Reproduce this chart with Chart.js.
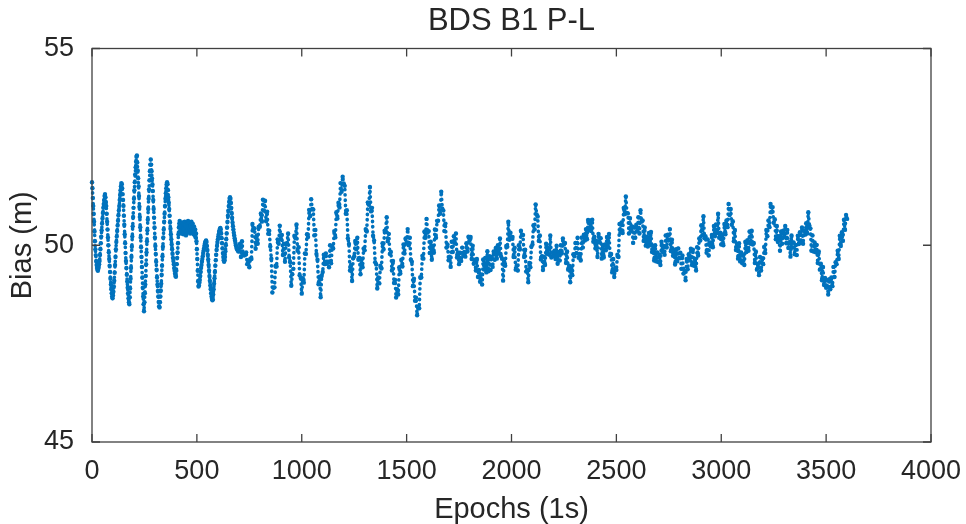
<!DOCTYPE html>
<html><head><meta charset="utf-8">
<script src="https://cdn.jsdelivr.net/npm/chart.js@4.4.1/dist/chart.umd.min.js"></script>
<style>html,body{margin:0;padding:0;background:#fff}#wrap{width:966px;height:524px;position:relative}</style>
</head><body><div id="wrap"><canvas id="c"></canvas></div>
<script>
const chartTitle = 'BDS B1 P-L';
const xAxisLabel = 'Epochs (1s)';
const yAxisLabel = 'Bias (m)';
const xTicks = [0, 500, 1000, 1500, 2000, 2500, 3000, 3500, 4000];
const yTicks = [45, 50, 55];

// epochs 0..700, every 2 s
const earlyStart = 0, earlyStep = 2;
const earlyBias = [
51.60,51.45,51.20,51.00,50.80,50.60,50.35,50.10,49.90,49.75,
49.60,49.50,49.42,49.38,49.35,49.40,49.45,49.52,49.60,49.75,
49.90,50.05,50.22,50.38,50.55,50.68,50.82,50.95,51.05,51.15,
51.25,51.30,51.22,51.10,51.00,50.80,50.60,50.40,50.20,50.00,
49.82,49.65,49.48,49.32,49.15,49.00,48.88,48.78,48.70,48.65,
48.72,48.82,48.95,49.10,49.30,49.50,49.70,49.90,50.08,50.22,
50.36,50.50,50.62,50.76,50.88,51.00,51.15,51.28,51.40,51.50,
51.58,51.55,51.45,51.30,51.15,51.00,50.75,50.52,50.28,50.05,
49.80,49.60,49.42,49.25,49.08,48.92,48.78,48.65,48.55,48.50,
48.68,48.90,49.15,49.42,49.70,49.96,50.22,50.48,50.72,50.95,
51.18,51.40,51.60,51.80,51.98,52.12,52.25,52.28,52.10,51.90,
51.70,51.50,51.25,50.98,50.72,50.46,50.20,49.95,49.70,49.45,
49.18,48.92,48.70,48.50,48.32,48.55,48.78,49.00,49.22,49.52,
49.82,50.10,50.38,50.65,50.92,51.18,51.42,51.65,51.88,52.05,
52.18,52.05,51.88,51.70,51.55,51.38,51.15,50.92,50.70,50.45,
50.20,49.98,49.78,49.58,49.38,49.18,49.00,48.84,48.70,48.56,
48.45,48.42,48.55,48.70,48.85,49.02,49.25,49.48,49.72,49.96,
50.20,50.40,50.60,50.80,51.00,51.18,51.32,51.45,51.55,51.60,
51.55,51.40,51.22,51.08,50.92,50.75,50.58,50.42,50.28,50.15,
50.02,49.90,49.78,49.68,49.60,49.52,49.42,49.35,49.28,49.22,
49.20,49.35,49.52,49.68,49.82,50.05,50.28,50.45,50.55,50.62,
50.50,50.38,50.55,50.30,50.48,50.35,50.58,50.42,50.28,50.52,
50.40,50.60,50.33,50.50,50.25,50.45,50.30,50.56,50.40,50.62,
50.48,50.35,50.58,50.42,50.30,50.50,50.38,50.60,50.45,50.32,
50.55,50.40,50.28,50.48,50.35,50.25,50.40,50.20,50.30,50.10,
49.90,49.65,49.35,49.08,48.95,48.98,49.05,49.12,49.22,49.32,
49.42,49.50,49.58,49.65,49.72,49.80,49.86,49.92,49.98,50.04,
50.08,50.10,50.12,50.08,49.98,49.88,49.76,49.64,49.50,49.36,
49.22,49.10,48.98,48.88,48.78,48.70,48.64,48.60,48.62,48.75,
48.88,49.02,49.16,49.32,49.48,49.62,49.76,49.88,49.98,50.08,
50.15,50.22,50.28,50.34,50.38,50.42,50.44,50.40,50.30,50.18,
50.05,49.92,49.80,49.70,49.62,49.58,49.62,49.70,49.85,50.00,
50.15,50.30,50.45,50.60,50.75,50.88,51.00,51.10,51.18,51.22,
51.18,51.08,50.95,50.82,50.70,50.58,50.48,50.40,50.32,50.25,
50.18,50.12,50.06,50.00,49.96,49.92,49.90,49.88,49.86,49.84,
49.85];

// epochs 705..3600, every 5 s
const lateStart = 705, lateStep = 5;
const lateBias = [
50.03,49.70,50.10,49.79,49.74,49.76,49.82,49.52,49.61,49.44,
49.66,49.65,50.54,50.43,50.43,49.91,50.25,50.04,50.47,50.47,
50.81,50.60,51.16,50.88,51.13,50.61,50.85,50.29,50.37,49.97,
49.66,48.80,48.92,48.93,49.48,49.46,50.15,50.04,50.50,50.17,
50.26,49.75,50.04,49.58,50.03,50.06,50.30,49.69,49.57,48.97,
49.26,49.40,50.24,50.18,50.53,49.86,49.95,49.24,49.17,48.77,
49.16,49.05,49.79,49.78,50.28,50.21,50.90,50.74,51.17,50.92,
50.91,50.25,50.39,49.78,49.63,49.01,49.20,48.68,49.22,49.32,
49.76,49.52,49.79,49.53,49.58,49.44,50.00,49.54,49.97,49.92,
50.36,50.20,50.84,50.68,51.08,50.96,51.58,51.36,51.74,51.57,
51.51,50.80,50.89,50.18,50.03,49.36,49.50,49.09,49.67,49.72,
50.11,49.90,50.19,49.63,49.68,49.26,49.65,49.44,49.92,49.87,
50.41,50.35,51.09,51.03,51.48,50.86,50.95,50.24,50.12,49.57,
49.51,48.90,49.18,49.03,49.48,49.41,50.05,49.89,50.37,50.37,
50.71,50.10,50.29,49.78,49.83,49.36,49.60,49.04,49.12,48.67,
48.88,48.75,49.44,49.28,49.63,49.46,50.02,49.79,50.17,50.07,
50.41,50.00,50.19,49.63,49.58,48.96,49.15,48.59,48.67,48.22,
48.41,48.40,49.19,49.18,49.73,49.66,50.35,50.19,50.67,50.32,
50.36,49.80,50.09,49.63,49.98,49.81,50.40,50.19,50.62,50.62,
51.01,50.80,51.36,50.93,50.88,50.36,50.55,49.94,50.02,49.62,
49.71,49.45,50.09,49.83,50.23,50.06,50.30,49.69,49.82,49.52,
49.81,49.60,49.94,49.73,49.83,49.71,50.05,49.84,50.22,50.12,
50.21,49.65,49.99,49.53,49.63,49.36,49.65,49.19,49.37,49.07,
49.26,49.00,49.64,49.38,49.68,49.31,49.85,49.34,49.72,49.37,
49.71,49.45,49.84,49.63,49.93,49.66,50.00,49.79,50.17,49.72,
49.66,49.10,49.59,49.48,49.98,49.96,50.60,50.14,50.32,50.17,
50.21,49.70,49.94,49.38,49.48,49.36,50.00,49.89,50.37,50.27,
50.26,49.70,49.89,49.33,49.38,49.06,49.55,49.44,49.97,50.02,
50.51,50.40,51.04,50.78,50.73,50.11,50.25,49.64,49.72,49.37,
49.71,49.50,50.04,49.78,49.93,49.76,50.25,49.69,49.82,49.72,
49.86,49.65,49.99,49.53,49.83,49.61,50.00,49.79,50.17,50.02,
50.06,49.55,49.84,49.38,49.48,49.06,49.42,49.24,49.77,49.72,
50.06,49.80,50.19,49.68,49.78,49.61,50.20,49.94,50.27,50.12,
50.41,50.15,50.64,50.38,50.63,50.36,50.65,50.09,50.22,49.92,
50.11,49.70,50.29,50.08,50.18,49.66,50.00,49.69,50.02,49.87,
50.21,49.95,50.29,49.73,49.78,49.31,49.65,49.19,49.42,49.37,
49.76,49.70,50.54,50.33,50.58,50.31,50.95,50.79,51.24,50.82,
50.81,50.30,50.69,50.38,50.48,50.06,50.45,50.19,50.52,50.37,
50.71,50.30,50.89,50.60,50.63,50.11,50.45,49.99,50.22,49.97,
50.31,50.00,50.34,49.83,49.98,49.61,50.00,49.59,49.82,49.57,
49.76,49.50,50.09,49.83,49.98,49.76,50.25,49.94,50.27,50.12,
50.41,49.85,50.14,49.73,49.88,49.51,49.90,49.59,49.92,49.67,
49.81,49.40,49.74,49.28,49.36,49.11,49.65,49.39,49.77,49.62,
49.91,49.50,49.89,49.48,49.63,49.36,49.95,49.74,50.17,50.12,
50.51,50.25,50.74,50.18,50.23,49.81,50.15,49.74,50.07,49.97,
50.26,49.95,50.49,50.23,50.53,50.31,50.80,50.19,50.32,50.02,
50.26,50.00,50.54,50.28,50.63,50.46,51.05,50.77,50.92,50.52,
50.61,50.10,50.39,49.88,50.03,49.66,50.05,49.59,49.82,49.54,
49.74,49.50,50.09,49.83,50.13,49.86,50.35,50.04,50.37,50.02,
50.06,49.55,49.84,49.38,49.53,49.24,49.70,49.36,49.67,49.52,
49.96,49.80,50.39,50.23,50.63,50.46,51.05,50.84,50.97,50.57,
50.66,50.15,50.49,50.08,50.23,49.86,50.35,50.04,50.37,50.22,
50.49,50.05,50.39,49.93,50.08,49.71,50.25,49.94,50.07,49.77,
50.01,49.75,50.24,50.03,50.33,50.06,50.45,50.04,50.37,50.27,
50.56,50.30,50.84,50.50,50.43,49.86,50.25,49.84,50.07,49.82,
50.01,49.55,49.84,49.38,49.53,49.11,49.45,48.99,49.17,48.92,
49.11,48.75,49.14,48.88,49.18,48.96,49.45,49.19,49.57,49.52,
49.86,49.65,50.24,49.98,50.33,50.11,50.65,50.39,50.77,50.67];

const points = [];
earlyBias.forEach((v, i) => points.push({x: earlyStart + i * earlyStep, y: v}));
lateBias.forEach((v, i) => points.push({x: lateStart + i * lateStep, y: v}));

const FONT = "'Liberation Sans', Arial, Helvetica, sans-serif";
const AXIS = '#404040';
const TEXT = '#262626';
const BLUE = '#0072BD';

const framePlugin = {
  id: 'frame',
  afterDatasetsDraw(chart) {
    const {ctx, chartArea: a, scales: {x, y}} = chart;
    ctx.save();
    ctx.strokeStyle = AXIS;
    ctx.lineWidth = 1.3;
    ctx.strokeRect(a.left, a.top, a.right - a.left, a.bottom - a.top);
    const L = 8;
    ctx.beginPath();
    x.ticks.forEach(t => {
      const px = x.getPixelForValue(t.value);
      ctx.moveTo(px, a.bottom); ctx.lineTo(px, a.bottom - L);
      ctx.moveTo(px, a.top); ctx.lineTo(px, a.top + L);
    });
    y.ticks.forEach(t => {
      const py = y.getPixelForValue(t.value);
      ctx.moveTo(a.left, py); ctx.lineTo(a.left + L, py);
      ctx.moveTo(a.right, py); ctx.lineTo(a.right - L, py);
    });
    ctx.stroke();
    ctx.restore();
  }
};

new Chart(document.getElementById('c'), {
  type: 'scatter',
  data: { datasets: [{
    label: 'Bias',
    data: points,
    backgroundColor: BLUE,
    borderColor: BLUE,
    pointBorderWidth: 0,
    pointRadius: 2.2,
    pointHoverRadius: 2.2,
    showLine: true,
    borderWidth: 3.6,
    borderDash: [0.3, 5.0],
    borderCapStyle: 'round',
    borderJoinStyle: 'round',
    tension: 0,
    clip: 6
  }]},
  options: {
    responsive: true,
    maintainAspectRatio: false,
    animation: false,
    events: [],
    layout: { padding: { left: 0, right: 35, top: 0, bottom: 0 } },
    plugins: {
      legend: { display: false },
      tooltip: { enabled: false },
      title: {
        display: true, text: chartTitle, color: TEXT, fullSize: false,
        font: { family: FONT, size: 31, weight: 'normal', lineHeight: 1.2 },
        padding: { top: 3, bottom: 8.3 }
      }
    },
    scales: {
      x: {
        type: 'linear', min: 0, max: 4000,
        afterBuildTicks: s => { s.ticks = xTicks.map(v => ({value: v})); },
        afterFit: s => { s.height = 82; s.paddingLeft = 0; s.paddingRight = 0; },
        grid: { display: false, drawTicks: false },
        border: { display: false },
        ticks: { color: TEXT, padding: 13, maxRotation: 0, autoSkip: false,
          callback: v => String(v),
          font: { family: FONT, size: 27, lineHeight: 1.2 } },
        title: { display: true, text: xAxisLabel, color: TEXT,
          font: { family: FONT, size: 29, lineHeight: 1 }, padding: { top: 0, bottom: 0 } }
      },
      y: {
        type: 'linear', min: 45, max: 55,
        afterBuildTicks: s => { s.ticks = yTicks.map(v => ({value: v})); },
        afterFit: s => { s.width = 92; },
        grid: { display: false, drawTicks: false },
        border: { display: false },
        ticks: { color: TEXT, padding: 18, autoSkip: false,
          callback: v => String(v),
          font: { family: FONT, size: 27, lineHeight: 1.2 } },
        title: { display: true, text: yAxisLabel, color: TEXT,
          font: { family: FONT, size: 29, lineHeight: 1 }, padding: { top: 8, bottom: 0 } }
      }
    }
  },
  plugins: [framePlugin]
});
</script>
</body></html>
